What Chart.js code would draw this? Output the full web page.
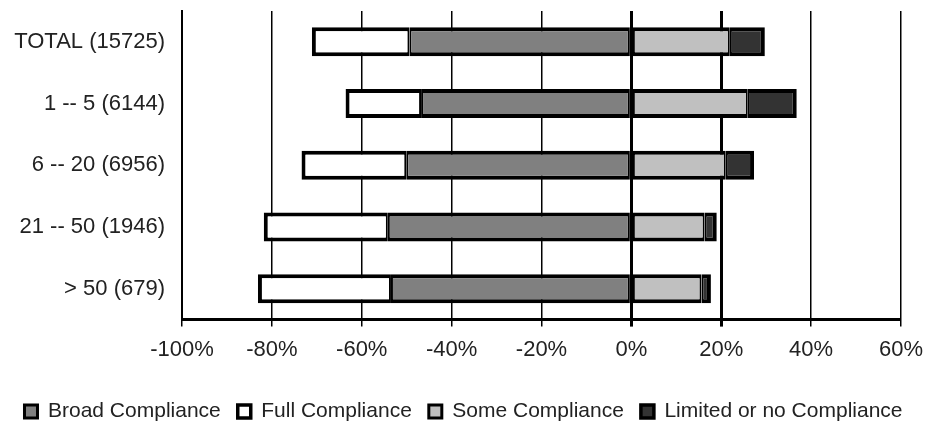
<!DOCTYPE html>
<html>
<head>
<meta charset="utf-8">
<script src="https://cdn.jsdelivr.net/npm/chart.js@4/dist/chart.umd.min.js"></script>
<style>
  html, body { margin: 0; padding: 0; background: #fff; }
  #wrap { width: 927px; height: 423px; }
</style>
</head>
<body>
<div id="wrap"><canvas id="chart" width="927" height="423"></canvas></div>
<script>
'use strict';

// ***** DATA *****
const categories = ['TOTAL (15725)', '1 -- 5 (6144)', '6 -- 20 (6956)', '21 -- 50 (1946)', '> 50 (679)'];
const broadCompliance = [-49.4, -46.8, -50.1, -54.2, -53.5];
const fullCompliance = [-21.7, -16.8, -23.3, -27.6, -29.6];
const someCompliance = [21.9, 25.9, 21.0, 16.3, 15.6];
const limitedCompliance = [7.8, 10.9, 6.3, 2.7, 2.1];
const xTicks = [-100, -80, -60, -40, -20, 0, 20, 40, 60];

// ***** CHART *****
Chart.defaults.font.family = '"Liberation Sans", Arial, sans-serif';
Chart.defaults.color = '#222';

const inner = 2;
const outer = 4;

new Chart(document.getElementById('chart'), {
  type: 'bar',
  data: {
    labels: categories,
    datasets: [
      {
        label: 'Broad Compliance',
        data: broadCompliance,
        backgroundColor: '#808080',
        borderColor: '#000',
        borderWidth: { top: outer, bottom: outer, left: inner, right: inner }
      },
      {
        label: 'Full Compliance',
        data: fullCompliance,
        backgroundColor: '#ffffff',
        borderColor: '#000',
        borderWidth: { top: outer, bottom: outer, left: outer, right: inner }
      },
      {
        label: 'Some Compliance',
        data: someCompliance,
        backgroundColor: '#c0c0c0',
        borderColor: '#000',
        borderWidth: { top: outer, bottom: outer, left: inner, right: inner }
      },
      {
        label: 'Limited or no Compliance',
        data: limitedCompliance,
        backgroundColor: '#333333',
        borderColor: '#000',
        borderWidth: { top: outer, bottom: outer, left: inner, right: outer }
      }
    ]
  },
  options: {
    indexAxis: 'y',
    responsive: false,
    animation: false,
    layout: { padding: { top: 11, right: 0, left: 0, bottom: -9 } },
    datasets: {
      bar: {
        borderSkipped: false,
        barPercentage: 0.47,
        categoryPercentage: 1
      }
    },
    scales: {
      x: {
        stacked: true,
        min: -100,
        max: 60,
        afterBuildTicks(scale) {
          scale.ticks = xTicks.map(v => ({ value: v }));
        },
        afterFit(scale) {
          scale.height = scale.height + 11;
          scale.paddingLeft = 0;
          scale.paddingRight = 26;
        },
        ticks: {
          padding: 10,
          font: { size: 22 },
          callback: v => v + '%'
        },
        grid: {
          color: '#000',
          lineWidth: ctx => (ctx.tick && (ctx.tick.value === 0 || ctx.tick.value === 20)) ? 3 : 1.5,
          tickLength: 7
        },
        border: { display: true, color: '#000', width: 3 }
      },
      y: {
        stacked: true,
        afterFit(scale) {
          scale.width = 182;
          scale.paddingTop = 0;
          scale.paddingBottom = 0;
        },
        ticks: {
          padding: 17,
          font: { size: 22 }
        },
        grid: { display: false, drawTicks: false },
        border: { display: true, color: '#000', width: 2 }
      }
    },
    plugins: {
      tooltip: { enabled: false },
      legend: {
        position: 'bottom',
        labels: {
          boxWidth: 13,
          boxHeight: 13,
          padding: 17,
          font: { size: 21 },
          color: '#222'
        }
      }
    }
  }
});
</script>
</body>
</html>
